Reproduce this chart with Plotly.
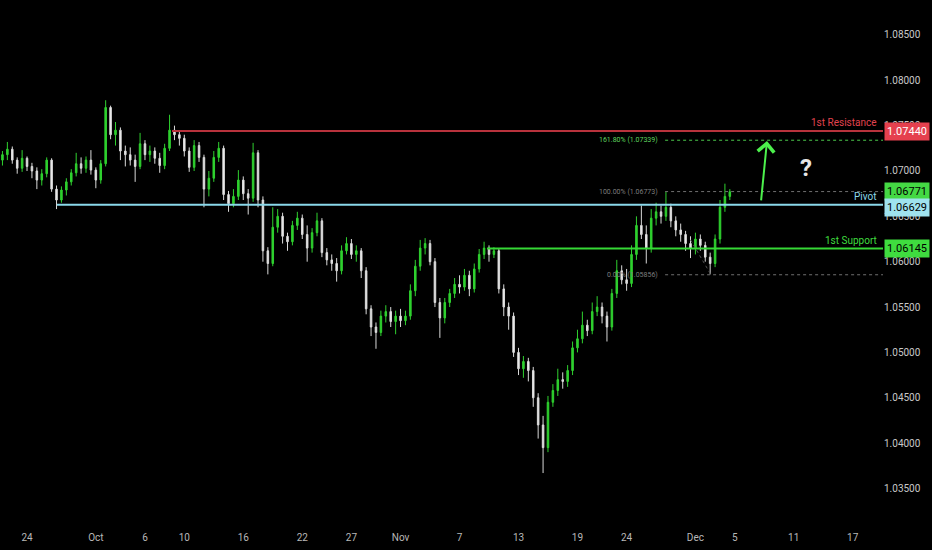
import pandas as pd
import plotly.graph_objects as go

# 12h candles
start_time = "2023-09-21 12:00"

open_ = [
    1.0712, 1.0718, 1.0724, 1.0712, 1.0703, 1.0714, 1.0705, 1.0700, 1.0690, 1.0697,
    1.0712, 1.0680, 1.0668, 1.0679, 1.0688, 1.0698, 1.0708, 1.0703, 1.0712, 1.0701,
    1.0690, 1.0708, 1.0770, 1.0740, 1.0745, 1.0722, 1.0718, 1.0712, 1.0705, 1.0730,
    1.0718, 1.0722, 1.0714, 1.0706, 1.0725, 1.0745, 1.0740, 1.0736, 1.0722, 1.0704,
    1.0728, 1.0715, 1.0680, 1.0692, 1.0715, 1.0725, 1.0674, 1.0664, 1.0672, 1.0690,
    1.0675, 1.0670, 1.0720, 1.0668, 1.0612, 1.0598, 1.0638, 1.0650, 1.0628, 1.0622,
    1.0640, 1.0648, 1.0630, 1.0615, 1.0632, 1.0645, 1.0610, 1.0602, 1.0598, 1.0590,
    1.0612, 1.0620, 1.0608, 1.0612, 1.0590, 1.0548, 1.0528, 1.0522, 1.0540, 1.0545,
    1.0534, 1.0540, 1.0535, 1.0540, 1.0568, 1.0595, 1.0615, 1.0620, 1.0600, 1.0555,
    1.0538, 1.0555, 1.0565, 1.0575, 1.0572, 1.0585, 1.0570, 1.0592, 1.0608, 1.0615,
    1.0608, 1.0612, 1.0570, 1.0550, 1.0540, 1.0500, 1.0482, 1.0490, 1.0480, 1.0450,
    1.0420, 1.0395, 1.0445, 1.0458, 1.0470, 1.0468, 1.0480, 1.0505, 1.0515, 1.0530,
    1.0524, 1.0545, 1.0550, 1.0540, 1.0528, 1.0565, 1.0590, 1.0580, 1.0576, 1.0608,
    1.0640, 1.0630, 1.0615, 1.0648, 1.0655, 1.0650, 1.0660, 1.0645, 1.0635, 1.0630,
    1.0620, 1.0615, 1.0625, 1.0618, 1.0605, 1.0598, 1.0625, 1.0660, 1.0672,
]
high = [
    1.0722, 1.0732, 1.0727, 1.0715, 1.0723, 1.0716, 1.0709, 1.0704, 1.0702, 1.0715,
    1.0714, 1.0684, 1.0683, 1.0692, 1.0702, 1.0720, 1.0715, 1.0716, 1.0723, 1.0704,
    1.0712, 1.0778, 1.0772, 1.0754, 1.0748, 1.0728, 1.0726, 1.0718, 1.0742, 1.0734,
    1.0728, 1.0726, 1.0720, 1.0730, 1.0762, 1.0750, 1.0745, 1.0740, 1.0726, 1.0734,
    1.0732, 1.0718, 1.0700, 1.0722, 1.0732, 1.0728, 1.0678, 1.0680, 1.0701, 1.0694,
    1.0680, 1.0731, 1.0723, 1.0672, 1.0616, 1.0660, 1.0658, 1.0654, 1.0632, 1.0645,
    1.0655, 1.0652, 1.0640, 1.0637, 1.0654, 1.0648, 1.0615, 1.0608, 1.0604, 1.0618,
    1.0627, 1.0625, 1.0618, 1.0615, 1.0594, 1.0552, 1.0533, 1.0546, 1.0552, 1.0550,
    1.0546, 1.0548, 1.0546, 1.0575, 1.0602, 1.0624, 1.0626, 1.0624, 1.0604, 1.0560,
    1.0560, 1.0570, 1.0582, 1.0585, 1.0592, 1.0590, 1.0598, 1.0614, 1.0622, 1.0618,
    1.0616, 1.0614, 1.0575, 1.0555, 1.0544, 1.0505, 1.0496, 1.0494, 1.0484, 1.0455,
    1.0430, 1.0452, 1.0465, 1.0482, 1.0478, 1.0486, 1.0512, 1.0525, 1.0545, 1.0536,
    1.0555, 1.0562, 1.0555, 1.0545, 1.0570, 1.0602, 1.0596, 1.0592, 1.0618, 1.0650,
    1.0662, 1.0640, 1.0658, 1.0665, 1.0662, 1.0677, 1.0664, 1.0650, 1.0642, 1.0634,
    1.0628, 1.0632, 1.0630, 1.0622, 1.0610, 1.0630, 1.0668, 1.0686, 1.0680,
]
low = [
    1.0706, 1.0712, 1.0708, 1.0697, 1.0699, 1.0700, 1.0692, 1.0680, 1.0684, 1.0693,
    1.0677, 1.0658, 1.0665, 1.0673, 1.0684, 1.0694, 1.0697, 1.0698, 1.0696, 1.0681,
    1.0686, 1.0705, 1.0735, 1.0728, 1.0712, 1.0705, 1.0706, 1.0688, 1.0702, 1.0712,
    1.0710, 1.0708, 1.0698, 1.0702, 1.0722, 1.0734, 1.0728, 1.0716, 1.0699, 1.0700,
    1.0710, 1.0660, 1.0672, 1.0688, 1.0710, 1.0668, 1.0655, 1.0660, 1.0668, 1.0668,
    1.0652, 1.0666, 1.0660, 1.0600, 1.0586, 1.0595, 1.0632, 1.0620, 1.0612, 1.0618,
    1.0635, 1.0625, 1.0600, 1.0610, 1.0628, 1.0605, 1.0596, 1.0590, 1.0578, 1.0586,
    1.0608, 1.0603, 1.0600, 1.0582, 1.0542, 1.0518, 1.0504, 1.0518, 1.0533, 1.0528,
    1.0520, 1.0528, 1.0530, 1.0536, 1.0562, 1.0590, 1.0608, 1.0596, 1.0550, 1.0516,
    1.0532, 1.0550, 1.0560, 1.0565, 1.0568, 1.0562, 1.0566, 1.0588, 1.0603, 1.0600,
    1.0604, 1.0565, 1.0540, 1.0525, 1.0495, 1.0475, 1.0472, 1.0468, 1.0440, 1.0405,
    1.0367, 1.0390, 1.0440, 1.0452, 1.0460, 1.0462, 1.0475, 1.0500, 1.0510, 1.0518,
    1.0520, 1.0540, 1.0532, 1.0512, 1.0524, 1.0560, 1.0575, 1.0568, 1.0572, 1.0602,
    1.0625, 1.0598, 1.0610, 1.0640, 1.0642, 1.0645, 1.0638, 1.0628, 1.0622, 1.0612,
    1.0604, 1.0608, 1.0612, 1.0600, 1.0586, 1.0594, 1.0620, 1.0655, 1.0668,
]
close = [
    1.0718, 1.0724, 1.0712, 1.0703, 1.0714, 1.0705, 1.0700, 1.0690, 1.0697, 1.0712,
    1.0680, 1.0668, 1.0679, 1.0688, 1.0698, 1.0708, 1.0703, 1.0712, 1.0701, 1.0690,
    1.0708, 1.0770, 1.0740, 1.0745, 1.0722, 1.0718, 1.0712, 1.0705, 1.0730, 1.0718,
    1.0722, 1.0714, 1.0706, 1.0725, 1.0745, 1.0740, 1.0736, 1.0722, 1.0704, 1.0728,
    1.0715, 1.0680, 1.0692, 1.0715, 1.0725, 1.0674, 1.0664, 1.0672, 1.0690, 1.0675,
    1.0670, 1.0720, 1.0668, 1.0612, 1.0598, 1.0638, 1.0650, 1.0628, 1.0622, 1.0640,
    1.0648, 1.0630, 1.0615, 1.0632, 1.0645, 1.0610, 1.0602, 1.0598, 1.0590, 1.0612,
    1.0620, 1.0608, 1.0612, 1.0590, 1.0548, 1.0528, 1.0522, 1.0540, 1.0545, 1.0534,
    1.0540, 1.0535, 1.0540, 1.0568, 1.0595, 1.0615, 1.0620, 1.0600, 1.0555, 1.0538,
    1.0555, 1.0565, 1.0575, 1.0572, 1.0585, 1.0570, 1.0592, 1.0608, 1.0615, 1.0608,
    1.0612, 1.0570, 1.0550, 1.0540, 1.0500, 1.0482, 1.0490, 1.0480, 1.0450, 1.0420,
    1.0395, 1.0445, 1.0458, 1.0470, 1.0468, 1.0480, 1.0505, 1.0515, 1.0530, 1.0524,
    1.0545, 1.0550, 1.0540, 1.0528, 1.0565, 1.0590, 1.0580, 1.0576, 1.0608, 1.0640,
    1.0630, 1.0615, 1.0648, 1.0655, 1.0650, 1.0660, 1.0645, 1.0635, 1.0630, 1.0620,
    1.0615, 1.0625, 1.0618, 1.0605, 1.0598, 1.0625, 1.0660, 1.0672, 1.0677,
]

# x axis date labels
tick_dates = ["2023-09-24", "2023-10-01", "2023-10-06", "2023-10-10", "2023-10-16",
              "2023-10-22", "2023-10-27", "2023-11-01", "2023-11-07", "2023-11-13",
              "2023-11-19", "2023-11-24", "2023-12-01", "2023-12-05", "2023-12-11",
              "2023-12-17"]
tick_text = ["24", "Oct", "6", "10", "16", "22", "27", "Nov", "7", "13", "19", "24",
             "Dec", "5", "11", "17"]

# price axis labels
price_ticks = [1.035, 1.040, 1.045, 1.050, 1.055, 1.060, 1.065, 1.070, 1.075, 1.080, 1.085]

# key levels
resistance = 1.07440
pivot = 1.06629
support = 1.06145
last_price = 1.06771
fib_levels = [1.07339, 1.06773, 1.05856]
fib_names = ["161.80%", "100.00%", "0.00%"]

times = pd.date_range(start_time, periods=len(close), freq="12h")
x_range = ["2023-09-21 06:00", "2023-12-20 02:00"]
y_range = [1.03064, 1.08885]

fig = go.Figure(go.Candlestick(
    x=times, open=open_, high=high, low=low, close=close,
    increasing=dict(line=dict(color="#2fd12f", width=1), fillcolor="#2fd12f"),
    decreasing=dict(line=dict(color="#d9d9d9", width=1), fillcolor="#f2f2f2"),
    whiskerwidth=0,
    showlegend=False,
    hoverinfo="skip",
))

shapes = []
# horizontal levels
shapes.append(dict(type="line", xref="x", yref="y", x0="2023-10-08 18:00", x1=x_range[1],
                   y0=resistance, y1=resistance, line=dict(color="#b8323c", width=2)))
shapes.append(dict(type="line", xref="x", yref="y", x0="2023-09-27 01:00", x1=x_range[1],
                   y0=pivot, y1=pivot, line=dict(color="#8ad8ea", width=2)))
shapes.append(dict(type="line", xref="x", yref="y", x0="2023-11-09 19:00", x1=x_range[1],
                   y0=support, y1=support, line=dict(color="#35d835", width=2)))
# fib retracement
fib_colors = ["#4cc94c", "#6f6f6f", "#6f6f6f"]
for lvl, col in zip(fib_levels, fib_colors):
    shapes.append(dict(type="line", xref="x", yref="y", x0="2023-11-27 22:00", x1=x_range[1],
                       y0=lvl, y1=lvl, line=dict(color=col, width=1, dash="dot")))
shapes.append(dict(type="line", xref="x", yref="y", x0="2023-11-30 12:00", x1="2023-12-02 14:00",
                   y0=1.0624, y1=1.05856, line=dict(color="#555555", width=1, dash="dot")))

annotations = []
for lvl, name, col in zip(fib_levels, fib_names, ["#5fd35f", "#7d7d7d", "#7d7d7d"]):
    annotations.append(dict(x="2023-11-27 09:00", y=lvl, xref="x", yref="y",
                            text=f"{name} ({lvl:.5f})", showarrow=False, xanchor="right",
                            font=dict(size=7, color=col)))

# level names above the lines
for lvl, name, col in [(resistance, "1st Resistance", "#e0434f"),
                       (pivot, "Pivot", "#8ad8ea"),
                       (support, "1st Support", "#3fdc3f")]:
    annotations.append(dict(x=1, y=lvl, xref="paper", yref="y", text=name, showarrow=False,
                            xanchor="right", yanchor="bottom", xshift=-4, yshift=1,
                            font=dict(size=10, color=col)))

# price boxes on the right scale
for lvl, bg, fg, shift in [(resistance, "#e5404e", "#ffffff", 0),
                           (last_price, "#44d844", "#000000", 0),
                           (pivot, "#9fe2ee", "#000000", -3),
                           (support, "#3fdc3f", "#000000", 0)]:
    annotations.append(dict(x=1, y=lvl, xref="paper", yref="y", text=f"{lvl:.5f}",
                            showarrow=False, xanchor="left", xshift=1, yshift=shift,
                            bgcolor=bg, borderpad=2, font=dict(size=11, color=fg)))

# projected move arrow and question mark
annotations.append(dict(x="2023-12-08 06:45", y=1.0733, ax="2023-12-07 16:00", ay=1.0666,
                        xref="x", yref="y", axref="x", ayref="y", text="", showarrow=True,
                        arrowhead=4, arrowsize=1.6, arrowwidth=2, arrowcolor="#4cf04c"))
annotations.append(dict(x="2023-12-12 06:00", y=1.0703, xref="x", yref="y", text="<b>?</b>",
                        showarrow=False, font=dict(size=24, color="#e6e6e6")))

fig.update_layout(
    width=932, height=550,
    margin=dict(l=0, r=49, t=0, b=20),
    paper_bgcolor="#000000",
    plot_bgcolor="#000000",
    font=dict(family="Roboto", color="#c8c8c8"),
    boxgap=0.55,
    shapes=shapes,
    annotations=annotations,
    xaxis=dict(type="date", range=x_range, rangeslider=dict(visible=False),
               tickvals=tick_dates, ticktext=tick_text, showgrid=False, zeroline=False,
               showline=False, ticks="", tickfont=dict(size=10, color="#b8b8b8")),
    yaxis=dict(side="right", range=[1.03042, 1.08885], tickvals=price_ticks,
               ticktext=[f"{v:.5f}" for v in price_ticks], showgrid=False, zeroline=False,
               showline=False, ticks="", tickfont=dict(size=10, color="#c8c8c8")),
)

# page margin off so the chart sits at the window corner
fig.write_html("out.html", config={"displayModeBar": False},
               post_script="document.body.style.margin='0';document.body.style.background='#000';")
